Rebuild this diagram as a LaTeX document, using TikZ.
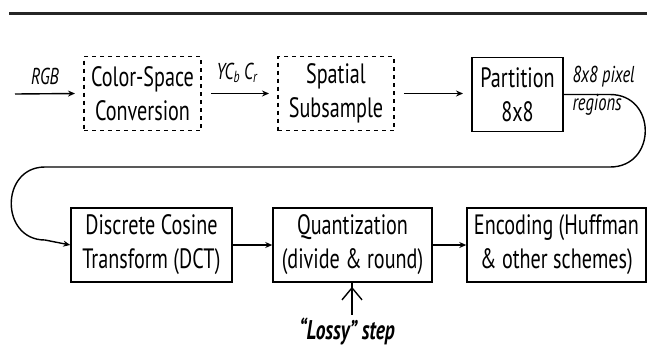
\documentclass[tikz,border=0pt]{standalone}
\usepackage{fontspec}
\setmainfont[FakeStretch=0.72]{PT Sans}
\usetikzlibrary{arrows.meta}
\tikzset{
  stage/.style={draw, line width=1.5pt, minimum height=74pt, inner sep=0pt,
    align=center, font=\fontsize{28}{34}\selectfont},
  optstage/.style={stage, dashed, dash pattern=on 4pt off 4pt},
  flow/.style={line width=1.4pt, -{Stealth[length=7pt,width=6pt]}},
  lbl/.style={font=\fontsize{23}{26}\selectfont\itshape},
}
\begin{document}
\begin{tikzpicture}[x=1pt,y=-1pt]
\useasboundingbox (0,0) rectangle (647,346);
% rule across the top
\draw[line width=3pt, black!85] (9,13) -- (647,13);

% first row
\node[optstage, minimum width=117pt] (csc) at (142.5,93.5) {Color-Space\\Conversion};
\node[optstage, minimum width=116pt] (ss) at (336,93.5) {Spatial\\Subsample};
\node[stage, minimum width=91pt] (part) at (517.5,94.5) {Partition\\8x8};

\coordinate (in) at (15,94);
\draw[flow] (in) -- (csc.west -| 75,0);
\node[lbl] (rgb) at (45,76) {RGB};
\draw[flow] (csc.east) ++(9,0) coordinate (ya) -- (ya -| 269,0);
\node[lbl] (ycc) at (237,73) {YC\textsubscript{\itshape b}\,C\textsubscript{\itshape r}};
\draw[flow] (ss.east) ++(9,0) coordinate (sa) -- (sa -| 463,0);

% second row
\node[stage, minimum width=161pt] (dct) at (151.5,245) {Discrete Cosine\\Transform (DCT)};
\node[stage, minimum width=159pt] (quant) at (352.5,245) {Quantization\\(divide \& round)};
\node[stage, minimum width=179pt] (enc) at (556.5,245) {Encoding (Huffman\\\& other schemes)};

\draw[flow] (dct.east) -- (quant.west);
\draw[flow] (quant.east) -- (enc.west);

% loop from the partition stage down to the DCT
\node[lbl, anchor=west] (pix) at (569,77) {8x8 pixel};
\node[lbl, anchor=west] (reg) at (569,105) {regions};
\draw[flow] (part.east) -- (610,94.5)
  .. controls (657,94.5) and (657,167) .. (610,167)
  -- (45,167)
  .. controls (0,167) and (0,240) .. (45,240)
  -- (dct.west);

% lossy marker
\node[font=\fontsize{27}{30}\selectfont\bfseries\itshape] (lossy) at (347,331) {“Lossy” step};
\draw[line width=1.4pt, -{Straight Barb[length=12pt,width=20pt,line width=1.4pt]}]
  (lossy.north -| 352,0) ++(0,1) coordinate (lb) -- (quant.south -| lb) ++(0,4);
\end{tikzpicture}
\end{document}
